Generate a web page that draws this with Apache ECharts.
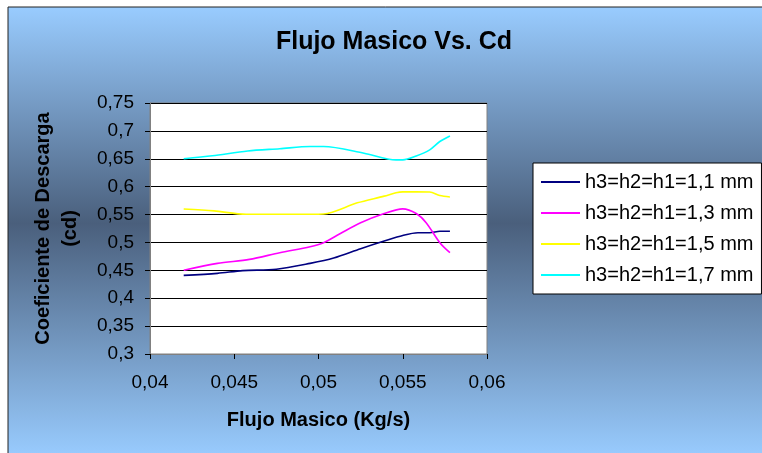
<!DOCTYPE html>
<html><head><meta charset="utf-8">
<script src="https://cdn.jsdelivr.net/npm/echarts@6/dist/echarts.min.js"></script>
<style>html,body{margin:0;padding:0;background:#fff}#c{width:762px;height:453px}</style>
</head><body><div id="c"></div>
<script>
const seriesNames = ['h3=h2=h1=1,1 mm','h3=h2=h1=1,3 mm','h3=h2=h1=1,5 mm','h3=h2=h1=1,7 mm'];
const xTicks = ['0,04','0,045','0,05','0,055','0,06'];
const yTicks = ['0,3','0,35','0,4','0,45','0,5','0,55','0,6','0,65','0,7','0,75'];

const x11 = [0.0420,0.0440,0.0455,0.0475,0.0495,0.0509,0.0525,0.0539,0.0550,0.0559,0.0566,0.0572,0.0578];
const y11 = [0.441,0.4446,0.4495,0.452,0.4625,0.472,0.4887,0.5024,0.5125,0.5173,0.5173,0.5202,0.5202];

const x13 = [0.0420,0.0440,0.0459,0.0477,0.0495,0.0503,0.0513,0.0525,0.0539,0.0550,0.0558,0.0564,0.0572,0.0578];
const y13 = [0.450,0.4625,0.4696,0.4816,0.4923,0.4995,0.516,0.5352,0.5518,0.5602,0.5518,0.535,0.4995,0.4816];

const x15 = [0.0420,0.0438,0.0457,0.0495,0.0503,0.0523,0.0539,0.0546,0.0550,0.0566,0.0572,0.0578];
const y15 = [0.560,0.5566,0.5505,0.5505,0.551,0.571,0.583,0.589,0.5906,0.5905,0.584,0.5816];

const x17 = [0.0420,0.0437,0.0458,0.0477,0.0495,0.0503,0.0527,0.0546,0.0550,0.0558,0.0566,0.0572,0.0578];
const y17 = [0.650,0.6554,0.664,0.668,0.672,0.672,0.660,0.648,0.648,0.655,0.666,0.681,0.691];

const colors = ['#000080','#ff00ff','#ffff00','#00ffff'];
const xs = [x11,x13,x15,x17];
const ys = [y11,y13,y15,y17];

const FONT = 'Liberation Sans';
const chart = echarts.init(document.getElementById('c'));
chart.setOption({
  animation:false,
  graphic:[{type:'rect', z:-10, shape:{x:8,y:7,width:760,height:450},
    style:{fill:new echarts.graphic.LinearGradient(0,0,0,1,[
      {offset:0,color:'#99ccff'},{offset:0.48,color:'#4a5f7c'},{offset:1,color:'#99ccff'}]),
      stroke:'#222',lineWidth:1}}],
  title:{text:'Flujo Masico Vs. Cd', left:389, textAlign:'center', top:25,
    textStyle:{fontFamily:FONT,fontWeight:'bold',fontSize:25,color:'#000'}},
  legend:{left:533, top:163, orient:'vertical', backgroundColor:'#fff', borderColor:'#000', borderWidth:1,
    padding:[9,8,9,8], itemGap:11, itemWidth:39, itemHeight:2, icon:'rect',
    textStyle:{fontFamily:FONT,fontSize:20,color:'#000',lineHeight:20},
    data:seriesNames},
  grid:{left:150, right:275, top:103, bottom:99, show:true, backgroundColor:'#fff', borderColor:'#808080', borderWidth:1},
  xAxis:{type:'value', min:0.04, max:0.06, interval:0.005,
    name:'Flujo Masico (Kg/s)', nameLocation:'middle', nameGap:56,
    nameTextStyle:{fontFamily:FONT,fontWeight:'bold',fontSize:20,color:'#000'},
    axisLine:{lineStyle:{color:'#808080'}}, axisTick:{show:true,length:5,lineStyle:{color:'#000'}},
    splitLine:{show:false},
    axisLabel:{formatter:v=>xTicks[Math.round((v-0.04)/0.005)], margin:19, fontFamily:FONT,fontSize:19,color:'#000'}},
  yAxis:{type:'value', min:0.3, max:0.75, interval:0.05,
    name:'Coeficiente de Descarga\n(cd)', nameLocation:'middle', nameGap:66, nameRotate:90,
    nameTextStyle:{fontFamily:FONT,fontWeight:'bold',fontSize:20,color:'#000',lineHeight:27},
    axisLine:{show:true,lineStyle:{color:'#808080'}}, axisTick:{show:true,length:5,lineStyle:{color:'#000'}},
    splitLine:{show:true,lineStyle:{color:'#000',width:1}},
    axisLabel:{formatter:v=>yTicks[Math.round((v-0.3)/0.05)], margin:16, fontFamily:FONT,fontSize:19,color:'#000'}},
  series: seriesNames.map((n,i)=>({name:n, type:'line', smooth:0.3, showSymbol:false, symbol:'none',
    color:colors[i], lineStyle:{width:1.6,color:colors[i]},
    data: xs[i].map((x,j)=>[x, ys[i][j]])}))
});
</script></body></html>
